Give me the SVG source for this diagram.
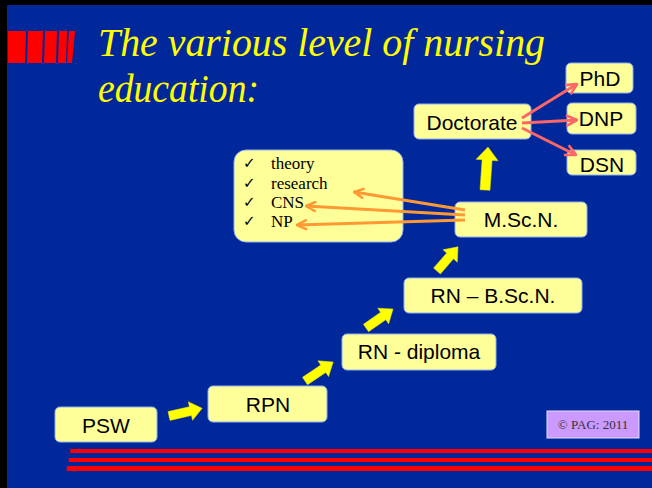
<svg xmlns="http://www.w3.org/2000/svg" width="652" height="488" viewBox="0 0 652 488">
<defs>
<style>
.box{fill:#FFFF99;stroke:#8FB0F0;stroke-width:1}
.lbl{font-family:"Liberation Sans",Arial,sans-serif;font-size:21px;fill:#000;text-anchor:middle}
.blt{font-family:"Liberation Serif","Times New Roman",serif;font-size:17px;fill:#000}
.chk{font-family:"DejaVu Sans",sans-serif;font-size:15px;fill:#000}
.yarr{fill:#FFFF00;stroke:#E6E600;stroke-width:0.5}
.oline{stroke:#FF9933;stroke-width:3;fill:none}
.sline{stroke:#FF6666;stroke-width:3;fill:none}
</style>
<marker id="ohead" viewBox="0 0 12 12" refX="11" refY="6" markerWidth="12" markerHeight="12" markerUnits="userSpaceOnUse" orient="auto">
<path d="M1,1 L11,6 L1,11" fill="none" stroke="#FF9933" stroke-width="2.5"/>
</marker>
<marker id="shead" viewBox="0 0 12 12" refX="11" refY="6" markerWidth="13" markerHeight="13" markerUnits="userSpaceOnUse" orient="auto">
<path d="M1,1 L11,6 L1,11" fill="none" stroke="#FF6666" stroke-width="2.5"/>
</marker>
</defs>
<rect x="0" y="0" width="652" height="488" fill="#000"/>
<rect x="7" y="5" width="645" height="483" fill="#00289A"/>
<g id="title-deco">
<polygon points="8,31 26,31 25,63 8,63" fill="#FF0000"/>
<polygon points="28,31 43,31 42,63 27,63" fill="#FF0000"/>
<polygon points="45,31 57,31 56,63 44,63" fill="#FF0000"/>
<polygon points="59,31 67,31 66,63 58,63" fill="#FF0000"/>
<polygon points="69,31 75,31 72,63 67,63" fill="#FF0000"/>
</g>
<g id="title" font-family="'Liberation Serif','Times New Roman',serif" font-style="italic" font-size="40" fill="#FFFF00">
<text x="98" y="56" textLength="447" lengthAdjust="spacingAndGlyphs">The various level of nursing</text>
<text x="98" y="102" textLength="161" lengthAdjust="spacingAndGlyphs">education:</text>
</g>
<g id="psw"><rect class="box" x="55" y="407" width="102" height="35" rx="5"/><text class="lbl" x="106" y="433">PSW</text></g>
<g id="rpn"><rect class="box" x="208" y="386" width="119" height="36" rx="5"/><text class="lbl" x="268" y="412">RPN</text></g>
<g id="rn-diploma"><rect class="box" x="342" y="334" width="154" height="36" rx="5"/><text class="lbl" x="419" y="359">RN - diploma</text></g>
<g id="rn-bscn"><rect class="box" x="404" y="278" width="178" height="35" rx="5"/><text class="lbl" x="493" y="303">RN – B.Sc.N.</text></g>
<g id="mscn"><rect class="box" x="455" y="202" width="132" height="35" rx="5"/><text class="lbl" x="521" y="227">M.Sc.N.</text></g>
<g id="doctorate"><rect class="box" x="414" y="104" width="117" height="35" rx="5"/><text class="lbl" x="472" y="130">Doctorate</text></g>
<g id="phd"><rect class="box" x="566" y="63" width="67" height="30" rx="5"/><text class="lbl" x="600" y="86">PhD</text></g>
<g id="dnp"><rect class="box" x="567" y="103" width="69" height="31" rx="5"/><text class="lbl" x="601" y="126">DNP</text></g>
<g id="dsn"><rect class="box" x="567" y="150" width="69" height="25" rx="5"/><text class="lbl" x="602" y="172">DSN</text></g>
<g id="components">
<rect class="box" x="234" y="150" width="169" height="92" rx="12"/>
<text class="chk" x="243" y="168">✓</text><text class="blt" x="271" y="169">theory</text>
<text class="chk" x="243" y="188">✓</text><text class="blt" x="271" y="189">research</text>
<text class="chk" x="243" y="207">✓</text><text class="blt" x="271" y="208">CNS</text>
<text class="chk" x="243" y="226">✓</text><text class="blt" x="271" y="227">NP</text>
</g>
<g id="copyright">
<rect x="547" y="411" width="92" height="27" fill="#CC99FF" stroke="#E0E0FF" stroke-width="1"/>
<text x="593" y="429" font-family="'Liberation Serif','Times New Roman',serif" font-size="13" text-anchor="middle" fill="#333">© PAG: 2011</text>
</g>
<g id="footer-lines" fill="#FF0000">
<polygon points="70.5,449 652,449 652,453 70,453"/>
<polygon points="69,458 652,458 652,462 68.5,462"/>
<polygon points="67,466 652,466 652,471 66.5,471"/>
</g>
<g id="connectors">
<polygon class="yarr" transform="translate(169,416) rotate(-13)" points="0,-4.5 22,-4.5 22,-9.5 34,0 22,9.5 22,4.5 0,4.5"/>
<polygon class="yarr" transform="translate(305,381) rotate(-34)" points="0,-4.5 22,-4.5 22,-9.5 34,0 22,9.5 22,4.5 0,4.5"/>
<polygon class="yarr" transform="translate(366,328) rotate(-35)" points="0,-4.5 21,-4.5 21,-9.5 33,0 21,9.5 21,4.5 0,4.5"/>
<polygon class="yarr" transform="translate(437,271) rotate(-49)" points="0,-4.5 20,-4.5 20,-9.5 32,0 20,9.5 20,4.5 0,4.5"/>
<polygon class="yarr" transform="translate(485,190) rotate(-86)" points="0,-5 30,-5 30,-11 43,0 30,11 30,5 0,5"/>
<line class="oline" x1="465" y1="210" x2="354" y2="192" marker-end="url(#ohead)"/>
<line class="oline" x1="465" y1="215" x2="306" y2="206" marker-end="url(#ohead)"/>
<line class="oline" x1="465" y1="220" x2="297" y2="225" marker-end="url(#ohead)"/>
<line class="sline" x1="522" y1="118" x2="577" y2="84" marker-end="url(#shead)"/>
<line class="sline" x1="522" y1="123" x2="577" y2="120" marker-end="url(#shead)"/>
<line class="sline" x1="522" y1="128" x2="576" y2="155" marker-end="url(#shead)"/>
</g>
</svg>
